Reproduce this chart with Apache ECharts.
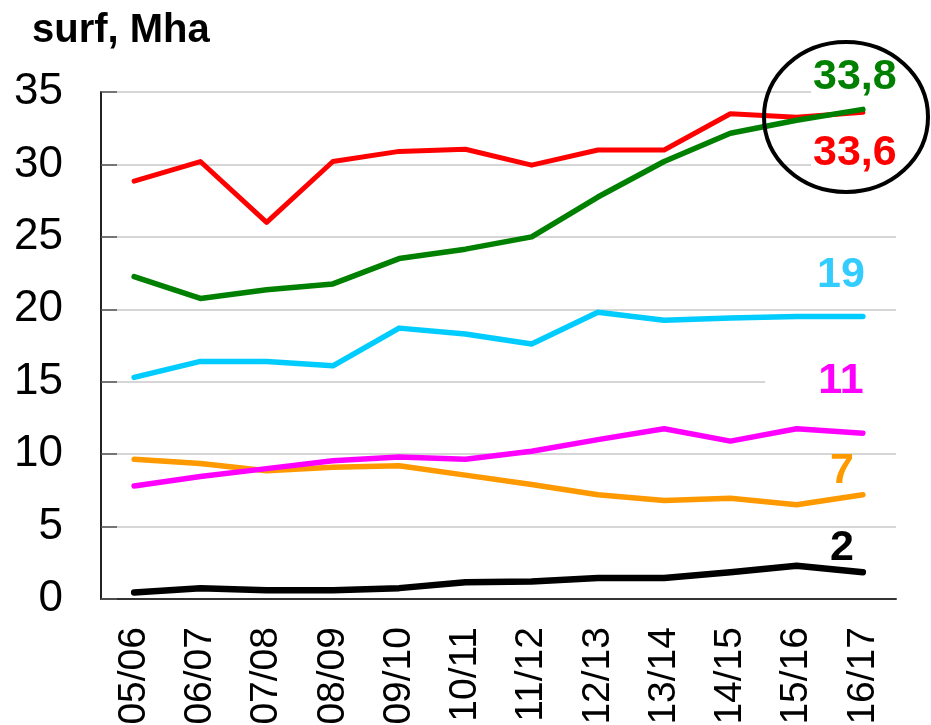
<!DOCTYPE html>
<html>
<head>
<meta charset="utf-8">
<script src="https://cdn.jsdelivr.net/npm/echarts@6/dist/echarts.min.js"></script>
<style>
  html, body { margin: 0; padding: 0; background: #fff; }
  #chart { width: 931px; height: 725px; }
</style>
</head>
<body>
<div id="chart"></div>
<script>
// 年度（横轴）
var seasons = ['05/06', '06/07', '07/08', '08/09', '09/10', '10/11', '11/12', '12/13', '13/14', '14/15', '15/16', '16/17'];
// 各系列面积，Mha
var redValues = [28.85, 30.2, 26.0, 30.2, 30.9, 31.05, 29.95, 31.0, 31.0, 33.5, 33.25, 33.6];
var greenValues = [22.25, 20.75, 21.35, 21.75, 23.5, 24.15, 25.0, 27.75, 30.2, 32.15, 33.05, 33.8];
var cyanValues = [15.3, 16.4, 16.4, 16.1, 18.7, 18.3, 17.6, 19.8, 19.25, 19.4, 19.5, 19.5];
var orangeValues = [9.65, 9.35, 8.85, 9.1, 9.2, 8.55, 7.9, 7.2, 6.8, 6.95, 6.5, 7.2];
var magentaValues = [7.8, 8.45, 9.0, 9.55, 9.8, 9.65, 10.2, 11.0, 11.75, 10.9, 11.75, 11.45];
var blackValues = [0.45, 0.75, 0.6, 0.6, 0.75, 1.15, 1.2, 1.45, 1.45, 1.85, 2.3, 1.85];
// 末端标注文字
var endLabels = { red: '33,6', green: '33,8', cyan: '19', orange: '7', magenta: '11', black: '2' };

var FONT = '"Liberation Sans", Arial, sans-serif';
var last = seasons.length - 1;

// 生成一条折线，末端带一个标注
function makeLine(name, values, color, width, labelText, labelColor, offset, extra) {
    var lbl = Object.assign({
        show: true,
        position: 'inside',
        offset: offset,
        formatter: labelText,
        color: labelColor,
        fontFamily: FONT,
        fontWeight: 'bold',
        fontSize: 43
    }, extra || {});
    return {
        name: name,
        type: 'line',
        data: values,
        symbol: 'none',
        animation: false,
        lineStyle: { color: color, width: width, cap: 'round', join: 'round' },
        markPoint: {
            symbol: 'circle',
            symbolSize: 0,
            silent: true,
            animation: false,
            data: [{ coord: [last, values[last]], label: lbl }]
        }
    };
}

var myChart = echarts.init(document.getElementById('chart'));
var option = {
    animation: false,
    backgroundColor: '#fff',
    title: {
        text: 'surf, Mha',
        left: 27,
        top: 6,
        textStyle: { fontFamily: FONT, fontSize: 40, fontWeight: 'bold', color: '#000' }
    },
    grid: { left: 101, right: 35, top: 92, bottom: 126, containLabel: false, outerBoundsMode: 'none' },
    xAxis: {
        type: 'category',
        data: seasons,
        boundaryGap: true,
        axisLine: { lineStyle: { color: '#333', width: 2 } },
        axisTick: { inside: true, length: 12, lineStyle: { color: '#555', width: 1.5 } },
        axisLabel: { rotate: 90, margin: 28, fontFamily: FONT, fontSize: 39, color: '#000', interval: 0 },
        splitLine: { show: false }
    },
    yAxis: {
        type: 'value',
        min: 0,
        max: 35,
        interval: 5,
        axisLine: { show: true, lineStyle: { color: '#222', width: 2 } },
        axisTick: { show: true, inside: true, length: 16, lineStyle: { color: '#555', width: 1.5 } },
        axisLabel: { margin: 38, fontFamily: FONT, fontSize: 44, color: '#000' },
        splitLine: { show: true, lineStyle: { color: '#c8c8c8', width: 1.5 } }
    },
    graphic: [{
        type: 'ellipse',
        z: 100,
        silent: true,
        shape: { cx: 846, cy: 117, rx: 82, ry: 75 },
        style: { fill: 'none', stroke: '#000', lineWidth: 4 }
    }],
    series: [
        makeLine('red', redValues, '#ff0000', 5, endLabels.red, '#ff0000', [-7, 41],
            { backgroundColor: '#fff', padding: [2, 4, 2, 2] }),
        makeLine('green', greenValues, '#008000', 5.5, endLabels.green, '#008000', [-7, -32],
            { backgroundColor: '#fff', padding: [2, 4, 2, 2] }),
        makeLine('cyan', cyanValues, '#00ccff', 5.5, endLabels.cyan, '#33ccff', [-22, -41]),
        makeLine('orange', orangeValues, '#ff9900', 5.5, endLabels.orange, '#ff9900', [-21, -24]),
        makeLine('magenta', magentaValues, '#ff00ff', 5.5, endLabels.magenta, '#ff00ff', [-32, -52],
            { backgroundColor: '#fff', padding: [2, 33, 2, 53] }),
        makeLine('black', blackValues, '#000000', 6.5, endLabels.black, '#000000', [-21, -24])
    ]
};
myChart.setOption(option);
</script>
</body>
</html>
